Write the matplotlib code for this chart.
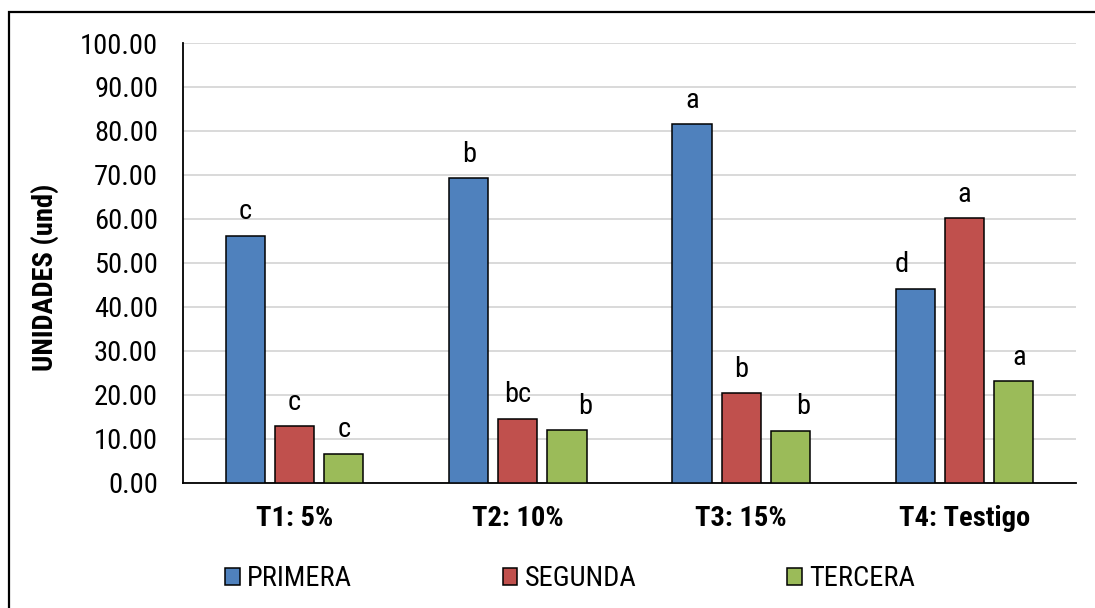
import numpy as np
import matplotlib
matplotlib.use("Agg")
import matplotlib.pyplot as plt
from matplotlib.patches import Rectangle

plt.rcParams['font.family'] = ['Roboto Condensed', 'Liberation Sans', 'DejaVu Sans']

# datos por tratamiento
tratamientos = ['T1: 5%', 'T2: 10%', 'T3: 15%', 'T4: Testigo']
primera = [56.1, 69.2, 81.5, 44.0]
segunda = [12.8, 14.5, 20.3, 60.1]
tercera = [6.5, 11.9, 11.8, 23.0]

# letras de significancia
letras_primera = ['c', 'b', 'a', 'd']
letras_segunda = ['c', 'bc', 'b', 'a']
letras_tercera = ['c', 'b', 'b', 'a']

series = [
    ('PRIMERA', primera, letras_primera, '#4F81BD'),
    ('SEGUNDA', segunda, letras_segunda, '#C0504D'),
    ('TERCERA', tercera, letras_tercera, '#9BBB59'),
]
# pequeños desplazamientos horizontales de algunas letras (en puntos)
ajuste_x = {(0, 3): -10, (2, 1): 13, (2, 2): 9, (2, 3): 4}

fs = 20.5
fig = plt.figure(figsize=(10.95, 6.08), dpi=100)
ax = fig.add_axes([183 / 1095, 1 - 482.5 / 608, 893 / 1095, 439.5 / 608])

x = np.arange(len(tratamientos))
ancho = 0.175
paso = 0.22

for i, (nombre, valores, letras, color) in enumerate(series):
    pos = x + (i - 1) * paso
    ax.bar(pos, valores, ancho, color=color, edgecolor='black', linewidth=1.1,
           label=nombre, zorder=3)
    for j, (xp, v, l) in enumerate(zip(pos, valores, letras)):
        ax.annotate(l, (xp, v), xytext=(ajuste_x.get((i, j), 0), 12),
                    textcoords='offset points', ha='center', va='baseline',
                    fontsize=fs)

ax.set_xlim(-0.5, 3.5)
ax.set_ylim(0, 100)
ax.set_yticks(np.arange(0, 101, 10))
ax.set_yticklabels([f'{v:.2f}' for v in np.arange(0, 101, 10)])
ax.set_xticks(x)
ax.set_xticklabels(tratamientos, fontweight='bold')
ax.tick_params(axis='y', length=0, pad=18, labelsize=fs)
ax.tick_params(axis='x', length=0, pad=16, labelsize=fs)
ax.grid(axis='y', color='#d9d9d9', linewidth=1.4, zorder=0)
ax.set_axisbelow(True)

for s in ['top', 'right']:
    ax.spines[s].set_visible(False)
ax.spines['left'].set_linewidth(1.3)
ax.spines['bottom'].set_linewidth(1.3)

ax.set_ylabel('UNIDADES (und)', fontsize=fs, fontweight='bold', va='center')
ax.yaxis.set_label_coords(-0.1545, 0.4676)

leg = fig.legend(loc='center', bbox_to_anchor=(570 / 1095, 1 - 579 / 608), ncol=3,
                 frameon=False, fontsize=fs, handlelength=0.52, handleheight=0.52,
                 handletextpad=0.25, columnspacing=5.3)

# marco exterior
fig.patches.append(Rectangle((9 / 1095, -0.1), 2, 1.1 - 12 / 608,
                             transform=fig.transFigure, fill=False,
                             edgecolor='black', linewidth=1.6))

fig.savefig('out.png', dpi=100)
